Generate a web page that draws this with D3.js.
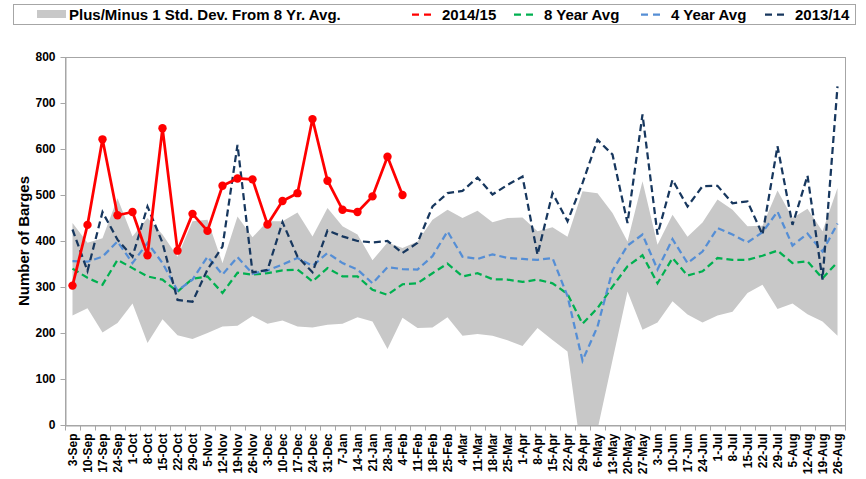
<!DOCTYPE html>
<head>
  <meta charset="utf-8">
  <script src="https://d3js.org/d3.v7.min.js"></script>
  <style>
    body {
      margin: 0;
      background: #fff;
      font-family: "Liberation Sans", Arial, sans-serif;
    }
    .axis text {
      font-size: 12px;
      font-weight: bold;
      fill: #000;
    }
    .axis path, .axis line {
      stroke: #a6a6a6;
    }
    .legend text {
      font-size: 15px;
      font-weight: bold;
    }
  </style>
</head>

<body>
  <div id="chart"></div>

  <script>
    var weeks = ["3-Sep", "10-Sep", "17-Sep", "24-Sep", "1-Oct", "8-Oct", "15-Oct", "22-Oct", "29-Oct",
      "5-Nov", "12-Nov", "19-Nov", "26-Nov", "3-Dec", "10-Dec", "17-Dec", "24-Dec", "31-Dec",
      "7-Jan", "14-Jan", "21-Jan", "28-Jan", "4-Feb", "11-Feb", "18-Feb", "25-Feb",
      "4-Mar", "11-Mar", "18-Mar", "25-Mar", "1-Apr", "8-Apr", "15-Apr", "22-Apr", "29-Apr",
      "6-May", "13-May", "20-May", "27-May", "3-Jun", "10-Jun", "17-Jun", "24-Jun",
      "1-Jul", "8-Jul", "15-Jul", "22-Jul", "29-Jul", "5-Aug", "12-Aug", "19-Aug", "26-Aug"];

    // 2014/15 season, only up to 4-Feb
    var season1415 = [303, 435, 621, 456, 463, 369, 645, 379, 459, 422, 520, 536, 534, 436, 487,
      504, 665, 531, 468, 463, 497, 583, 500];

    var season1314 = [425, 335, 463, 403, 366, 475, 396, 272, 268, 338, 388, 609, 332, 337, 441,
      366, 332, 423, 410, 400, 397, 400, 374, 396, 475, 504, 509, 538, 501, 522, 540, 370, 504,
      443, 526, 620, 588, 439, 675, 414, 533, 475, 519, 520, 482, 486, 414, 606, 435, 542, 316, 736];

    var avg8 = [340, 320, 305, 359, 341, 323, 316, 290, 318, 323, 287, 331, 327, 330, 336, 338,
      312, 341, 323, 323, 294, 283, 306, 308, 330, 351, 323, 330, 317, 316, 311, 316, 308, 285,
      220, 254, 301, 345, 369, 308, 363, 325, 334, 363, 359, 359, 368, 379, 352, 356, 319, 354];

    var avg4 = [356, 355, 366, 399, 352, 396, 352, 292, 316, 366, 327, 365, 329, 336, 349, 363,
      346, 374, 352, 338, 308, 343, 339, 338, 367, 421, 366, 361, 371, 363, 361, 359, 363, 280,
      140, 214, 336, 390, 414, 338, 404, 352, 377, 428, 414, 397, 419, 464, 390, 416, 377, 438];

    var sdUpper = [439, 396, 406, 493, 410, 450, 414, 366, 443, 446, 352, 453, 408, 443, 443, 462,
      410, 472, 432, 414, 358, 397, 385, 399, 446, 468, 450, 466, 441, 450, 451, 421, 430, 409,
      508, 504, 461, 399, 530, 392, 457, 409, 440, 490, 468, 432, 433, 510, 450, 470, 421, 515];

    var sdLower = [238, 254, 201, 222, 264, 178, 230, 195, 187, 200, 214, 216, 237, 220, 227, 214,
      212, 218, 220, 234, 225, 165, 233, 211, 212, 234, 194, 198, 194, 184, 172, 211, 185, 160,
      -80, -10, 141, 290, 207, 223, 269, 240, 223, 238, 246, 287, 305, 252, 264, 241, 225, 194];

    var yTicks = [0, 100, 200, 300, 400, 500, 600, 700, 800];

    var width = 866, height = 479;
    var margin = {left: 65, right: 21, top: 57, bottom: 54};

    var svg = d3.select("#chart").append("svg")
      .attr("width", width)
      .attr("height", height);

    var x = d3.scaleBand()
      .domain(weeks)
      .range([margin.left, width - margin.right]);
    var y = d3.scaleLinear()
      .domain([0, 800])
      .range([height - margin.bottom, margin.top]);
    var cx = function(i) { return x(weeks[i]) + x.bandwidth() / 2; };

    svg.append("clipPath").attr("id", "plot-clip")
      .append("rect")
        .attr("x", margin.left)
        .attr("y", margin.top)
        .attr("width", width - margin.left - margin.right)
        .attr("height", height - margin.top - margin.bottom);

    // plot frame
    svg.append("rect")
      .attr("x", margin.left + 0.5)
      .attr("y", margin.top + 0.5)
      .attr("width", width - margin.left - margin.right)
      .attr("height", height - margin.top - margin.bottom)
      .attr("fill", "none")
      .attr("stroke", "#a6a6a6");

    var band = d3.area()
      .x(function(d, i) { return cx(i); })
      .y0(function(d, i) { return y(sdLower[i]); })
      .y1(function(d) { return y(d); });

    svg.append("path")
      .datum(sdUpper)
      .attr("clip-path", "url(#plot-clip)")
      .attr("fill", "#c8c8c8")
      .attr("d", band);

    var line = d3.line()
      .x(function(d, i) { return cx(i); })
      .y(function(d) { return y(d); });

    var dashed = [
      {values: avg8, color: "#00b050"},
      {values: avg4, color: "#558ed5"},
      {values: season1314, color: "#17375e"}
    ];

    svg.selectAll("path.dash")
        .data(dashed)
      .enter().append("path")
        .attr("class", "dash")
        .attr("clip-path", "url(#plot-clip)")
        .attr("fill", "none")
        .attr("stroke", function(d) { return d.color; })
        .attr("stroke-width", 2.25)
        .attr("stroke-dasharray", "7,4")
        .attr("d", function(d) { return line(d.values); });

    svg.append("path")
      .datum(season1415)
      .attr("fill", "none")
      .attr("stroke", "#ff0000")
      .attr("stroke-width", 2.75)
      .attr("stroke-linejoin", "round")
      .attr("d", line);

    svg.selectAll("circle.pt")
        .data(season1415)
      .enter().append("circle")
        .attr("class", "pt")
        .attr("cx", function(d, i) { return cx(i); })
        .attr("cy", function(d) { return y(d); })
        .attr("r", 4.2)
        .attr("fill", "#ff0000");

    // axes
    var yAxis = svg.append("g")
      .attr("class", "axis")
      .attr("transform", "translate(" + (margin.left + 0.5) + ",0)")
      .call(d3.axisLeft(y).tickValues(yTicks).tickSize(5).tickPadding(5).tickSizeOuter(0));

    var xAxis = svg.append("g")
      .attr("class", "axis")
      .attr("transform", "translate(0," + (height - margin.bottom + 0.5) + ")")
      .call(d3.axisBottom(x).tickSize(0).tickSizeOuter(0));
    xAxis.selectAll(".tick text")
      .attr("transform", "rotate(-90)")
      .attr("text-anchor", "end")
      .attr("x", -8)
      .attr("y", 0)
      .attr("dy", "0.35em");
    // ticks sit between categories
    xAxis.selectAll("line.sep")
        .data(weeks.concat(["end"]))
      .enter().append("line")
        .attr("class", "sep")
        .attr("x1", function(d, i) { return Math.round(margin.left + i * x.bandwidth()) + 0.5; })
        .attr("x2", function(d, i) { return Math.round(margin.left + i * x.bandwidth()) + 0.5; })
        .attr("y1", 0)
        .attr("y2", 5);

    svg.append("text")
      .attr("transform", "translate(29," + y(400) + ") rotate(-90)")
      .attr("text-anchor", "middle")
      .style("font-size", "15px")
      .style("font-weight", "bold")
      .text("Number of Barges");

    // legend
    var legend = svg.append("g").attr("class", "legend");
    legend.append("rect")
      .attr("x", 13.5).attr("y", 4.5)
      .attr("width", 842).attr("height", 20)
      .attr("fill", "#fff")
      .attr("stroke", "#a6a6a6");

    legend.append("rect")
      .attr("x", 37).attr("y", 10)
      .attr("width", 29).attr("height", 8)
      .attr("fill", "#c8c8c8");
    legend.append("text")
      .attr("x", 69).attr("y", 19.5)
      .text("Plus/Minus 1 Std. Dev. From 8 Yr. Avg.");

    var legendItems = [
      {label: "2014/15", color: "#ff0000", x: 412},
      {label: "8 Year Avg", color: "#00b050", x: 514},
      {label: "4 Year Avg", color: "#558ed5", x: 641},
      {label: "2013/14", color: "#17375e", x: 765}
    ];
    var items = legend.selectAll("g.item")
        .data(legendItems)
      .enter().append("g")
        .attr("class", "item")
        .attr("transform", function(d) { return "translate(" + d.x + ",0)"; });
    items.append("line")
      .attr("x1", 0).attr("x2", 23)
      .attr("y1", 14.5).attr("y2", 14.5)
      .attr("stroke", function(d) { return d.color; })
      .attr("stroke-width", 2.25)
      .attr("stroke-dasharray", "7,5");
    items.append("text")
      .attr("x", 30).attr("y", 19.5)
      .text(function(d) { return d.label; });
  </script>
</body>
